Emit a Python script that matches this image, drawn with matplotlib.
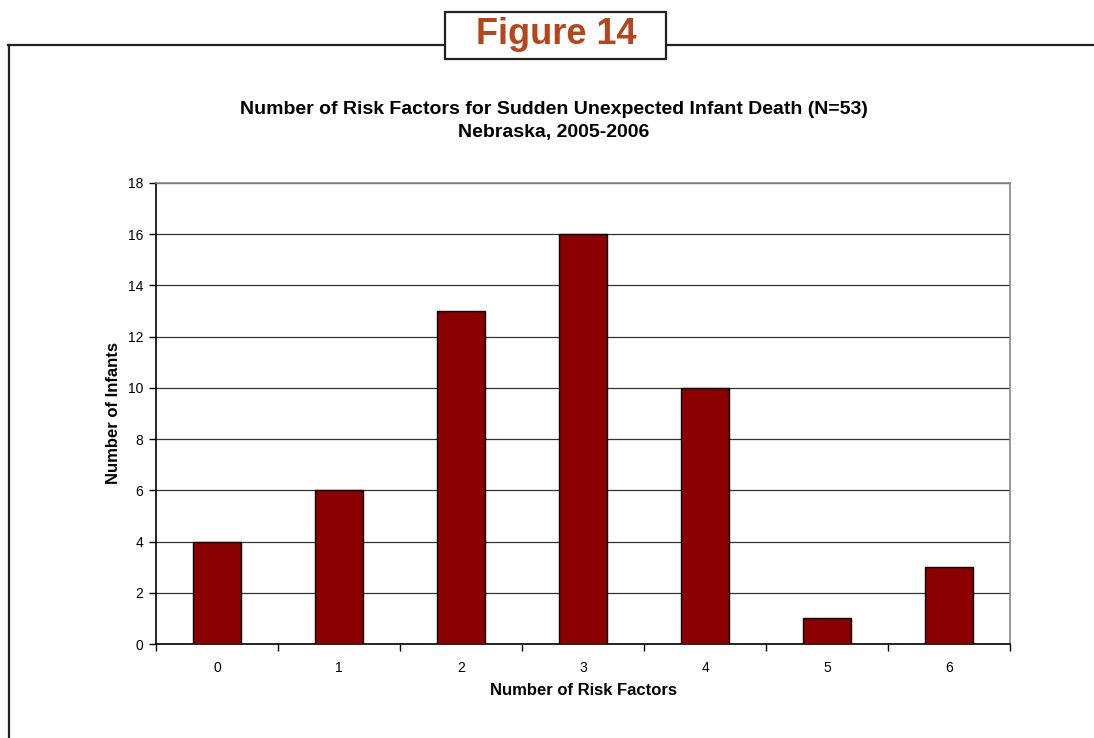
import matplotlib
matplotlib.use("Agg")
import matplotlib.pyplot as plt
from matplotlib.lines import Line2D
from matplotlib.patches import Rectangle

plt.rcParams['font.family'] = ['Liberation Sans', 'DejaVu Sans']

# Data
categories = ["0", "1", "2", "3", "4", "5", "6"]
infants = [4, 6, 13, 16, 10, 1, 3]
y_ticks = [0, 2, 4, 6, 8, 10, 12, 14, 16, 18]

W, H = 1094, 738
fig = plt.figure(figsize=(W / 100, H / 100), dpi=100)

# Outer frame with the figure label box
fig.add_artist(Line2D([8 / W, 1.0], [1 - 45 / H, 1 - 45 / H], color="#222222", lw=1.6,
                      transform=fig.transFigure))
fig.add_artist(Line2D([9 / W, 9 / W], [0, 1 - 45 / H], color="#222222", lw=1.6,
                      transform=fig.transFigure))
fig.add_artist(Rectangle((445 / W, 1 - 59 / H), 221 / W, 47 / H, transform=fig.transFigure,
                         facecolor="white", edgecolor="#222222", lw=1.6, zorder=3))
fig.text(556 / W, 1 - 35 / H, "Figure 14", ha="center", va="center", fontsize=26,
         fontweight="bold", color="#B5461C", zorder=4)

# Chart title
fig.text(554 / W, 1 - 110 / H, "Number of Risk Factors for Sudden Unexpected Infant Death (N=53)",
         ha="center", va="center", fontsize=14, fontweight="bold")
fig.text(554 / W, 1 - 133 / H, "Nebraska, 2005-2006",
         ha="center", va="center", fontsize=14, fontweight="bold")

ax = fig.add_axes([156 / W, 1 - 644 / H, 854 / W, 461 / H])
x = list(range(len(categories)))
ax.bar(x, infants, width=0.4, color="#8B0000", edgecolor="black", linewidth=1.0, zorder=3)

ax.set_xlim(-0.5, len(categories) - 0.5)
ax.set_ylim(0, 18)
ax.set_yticks(y_ticks)
ax.set_yticklabels([str(v) for v in y_ticks], fontsize=10)
ax.yaxis.grid(True, color="#333333", linewidth=0.9, zorder=0)
ax.set_axisbelow(True)

# Category labels centred, tick marks on category boundaries
ax.set_xticks([i - 0.5 for i in range(len(categories) + 1)])
ax.set_xticklabels([])
ax.set_xticks(x, minor=True)
ax.set_xticklabels(categories, minor=True, fontsize=10)
ax.tick_params(axis="x", which="minor", length=0, pad=12)
ax.tick_params(axis="x", which="major", length=5, width=1, direction="out")
ax.tick_params(axis="y", length=5, width=1, direction="out", pad=4)

for side in ("top", "right"):
    ax.spines[side].set_color("#888888")
    ax.spines[side].set_linewidth(1.2)
for side in ("left", "bottom"):
    ax.spines[side].set_color("black")
    ax.spines[side].set_linewidth(1.2)

ax.set_xlabel("Number of Risk Factors", fontsize=12, fontweight="bold", labelpad=6)
ax.set_ylabel("Number of Infants", fontsize=12, fontweight="bold", labelpad=5)

fig.savefig("out.png", dpi=100, facecolor="white")
